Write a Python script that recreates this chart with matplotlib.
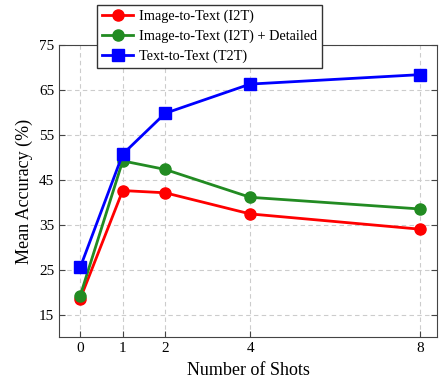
import matplotlib
matplotlib.use("Agg")
import matplotlib.pyplot as plt

shots = [0, 1, 2, 4, 8]
i2t = [18.5, 42.6, 42.1, 37.4, 34.0]
i2t_detailed = [19.2, 49.2, 47.3, 41.1, 38.5]
t2t = [25.5, 50.7, 59.8, 66.3, 68.4]
yticks = [15, 25, 35, 45, 55, 65, 75]

plt.rcParams['font.family'] = ['Liberation Serif', 'DejaVu Serif']
plt.rcParams['mathtext.fontset'] = 'stix'

fig = plt.figure(figsize=(4.42, 3.81), dpi=100)
ax = fig.add_axes([59/442, 1 - 337/381, (437-59)/442, (337-45)/381])

ax.plot(shots, i2t, color='red', marker='o', markersize=8, linewidth=2, label='Image-to-Text (I2T)', zorder=3)
ax.plot(shots, i2t_detailed, color='#228B22', marker='o', markersize=8, linewidth=2, label='Image-to-Text (I2T) + Detailed', zorder=3)
ax.plot(shots, t2t, color='blue', marker='s', markersize=8, linewidth=2, label='Text-to-Text (T2T)', zorder=3)

ax.set_xlim(-0.5, 8.4)
ax.set_ylim(10, 75)
ax.set_xticks(shots)
ax.set_yticks(yticks)
ax.grid(True, linestyle=(0, (4, 3)), color='#cccccc', linewidth=0.8)
ax.tick_params(direction='in', right=True, top=False, labelsize=11, length=4, color='#444444')
for s in ax.spines.values():
    s.set_color('#444444')
ax.set_xlabel('Number of Shots', fontsize=13, labelpad=5)
ax.set_ylabel('Mean Accuracy (%)', fontsize=13)

leg = ax.legend(loc='upper left', bbox_to_anchor=(38/378, 1 + 40/292), fontsize=10.3,
                frameon=True, fancybox=False, edgecolor='#333333', framealpha=1,
                handlelength=2.2, borderpad=0.35, labelspacing=0.45, handletextpad=0.4,
                borderaxespad=0)
leg.get_frame().set_linewidth(1.0)

fig.savefig('out.png', dpi=100)
